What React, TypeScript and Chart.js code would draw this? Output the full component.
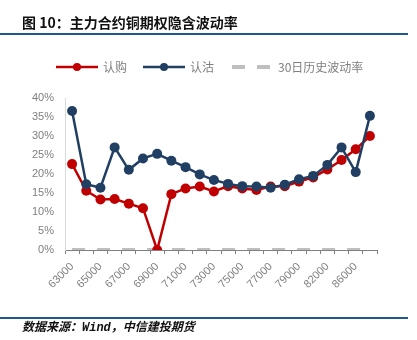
import React, { useEffect, useRef } from 'react';
import { Chart, registerables } from 'chart.js';

Chart.register(...registerables);

const categories = [
  '63000', '64000', '65000', '66000', '67000', '68000', '69000', '70000',
  '71000', '72000', '73000', '74000', '75000', '76000', '77000', '78000',
  '79000', '80000', '82000', '84000', '86000', '88000',
];

// 认购 (call) implied vol, %
const callValues = [
  22.6, 15.6, 13.3, 13.4, 12.2, 11.0, 0.0, 14.7, 16.2, 16.7, 15.4,
  16.8, 16.2, 15.8, 16.7, 16.8, 18.0, 19.1, 21.2, 23.7, 26.5, 30.0,
];

// 认沽 (put) implied vol, %
const putValues = [
  36.6, 17.3, 16.4, 27.0, 21.1, 24.1, 25.3, 23.5, 21.8, 19.9, 18.4,
  17.4, 16.8, 16.7, 16.4, 17.2, 18.6, 19.5, 22.4, 27.0, 20.5, 35.3,
];

// 30日历史波动率 (shown flat at 0)
const histValues = [
  0, 0, 0, 0, 0, 0, 0, 0, 0, 0, 0,
  0, 0, 0, 0, 0, 0, 0, 0, 0, 0, 0,
];

const yTicks = [0, 5, 10, 15, 20, 25, 30, 35, 40];

const seriesNames = ['认购', '认沽', '30日历史波动率'];

const RED = '#c00000';
const BLUE = '#213f63';
const GREY = '#bfbfbf';
const TEXT_GREY = '#7f7f7f';

const legendPlugin = {
  id: 'customLegend',
  afterDraw(chart: any) {
    const ctx = chart.ctx;
    const y = 67;
    ctx.save();
    ctx.lineWidth = 2.5;
    ctx.strokeStyle = RED;
    ctx.beginPath();
    ctx.moveTo(56, y);
    ctx.lineTo(98, y);
    ctx.stroke();
    ctx.fillStyle = RED;
    ctx.beginPath();
    ctx.arc(77, y, 4, 0, Math.PI * 2);
    ctx.fill();
    ctx.strokeStyle = BLUE;
    ctx.beginPath();
    ctx.moveTo(143, y);
    ctx.lineTo(185, y);
    ctx.stroke();
    ctx.fillStyle = BLUE;
    ctx.beginPath();
    ctx.arc(164, y, 4, 0, Math.PI * 2);
    ctx.fill();
    ctx.strokeStyle = GREY;
    ctx.lineWidth = 4;
    ctx.beginPath();
    ctx.moveTo(232, y);
    ctx.lineTo(245, y);
    ctx.moveTo(257, y);
    ctx.lineTo(270, y);
    ctx.stroke();
    ctx.fillStyle = TEXT_GREY;
    ctx.font = '12px "Noto Sans CJK SC", "Liberation Sans", sans-serif';
    ctx.textBaseline = 'middle';
    ctx.textAlign = 'left';
    ctx.fillText(seriesNames[0], 103, y);
    ctx.fillText(seriesNames[1], 190, y);
    ctx.fillText(seriesNames[2], 278, y);
    ctx.restore();
  },
};

export default function App() {
  const canvasRef = useRef<HTMLCanvasElement | null>(null);

  useEffect(() => {
    const canvas = canvasRef.current;
    if (!canvas) return;
    const chart = new Chart(canvas, {
      type: 'line',
      data: {
        labels: categories,
        datasets: [
          {
            label: seriesNames[1],
            data: putValues,
            borderColor: BLUE,
            backgroundColor: BLUE,
            borderWidth: 2.5,
            pointRadius: 5,
            pointBorderWidth: 0,
            pointBackgroundColor: BLUE,
            order: 0,
          },
          {
            label: seriesNames[0],
            data: callValues,
            borderColor: RED,
            backgroundColor: RED,
            borderWidth: 2.5,
            pointRadius: 5,
            pointBorderWidth: 0,
            pointBackgroundColor: RED,
            order: 1,
          },
          {
            label: seriesNames[2],
            data: histValues,
            borderColor: GREY,
            backgroundColor: GREY,
            borderWidth: 4,
            borderDash: [13, 12],
            pointRadius: 0,
            order: 2,
          },
        ],
      },
      options: {
        responsive: false,
        animation: false,
        devicePixelRatio: 1,
        layout: { padding: { top: 98, right: 40, left: 0, bottom: 0 } },
        plugins: {
          legend: { display: false },
          tooltip: { enabled: false },
          title: { display: false },
        },
        scales: {
          x: {
            offset: true,
            grid: {
              offset: true,
              drawOnChartArea: false,
              drawTicks: true,
              tickLength: 4,
              color: '#808080',
            },
            border: { display: true, color: '#808080', width: 1 },
            ticks: {
              autoSkip: false,
              minRotation: 45,
              maxRotation: 45,
              color: TEXT_GREY,
              font: { family: '"Liberation Sans", Arial, sans-serif', size: 11 },
              padding: 6,
              callback: (_v: any, i: number) => (i % 2 === 0 ? categories[i] : ''),
            },
            afterFit: (scale: any) => {
              scale.height = 90;
            },
          },
          y: {
            min: 0,
            max: 40,
            afterBuildTicks: (scale: any) => {
              scale.ticks = yTicks.map((v) => ({ value: v }));
            },
            grid: { display: false, drawTicks: false },
            border: { display: true, color: '#d9d9d9', width: 1 },
            ticks: {
              color: TEXT_GREY,
              font: { family: '"Liberation Sans", Arial, sans-serif', size: 11 },
              padding: 11,
              callback: (v: any) => `${v}%`,
            },
            afterFit: (scale: any) => {
              scale.width = 65;
            },
          },
        },
      },
      plugins: [legendPlugin],
    });
    return () => chart.destroy();
  }, []);

  return (
    <div style={{ position: 'fixed', left: 0, top: 0, width: 417, height: 340, background: '#fff', overflow: 'hidden' }}>
      <canvas ref={canvasRef} width={417} height={340} style={{ position: 'absolute', left: 0, top: 0, width: 417, height: 340 }} />
      <div
        style={{
          position: 'absolute', left: 22, top: 12, height: 20, lineHeight: '20px',
          fontFamily: '"Noto Sans CJK SC", sans-serif', fontSize: 14, fontWeight: 'bold', color: '#111', whiteSpace: 'nowrap',
        }}
      >
        图 10：主力合约铜期权隐含波动率
      </div>
      <div style={{ position: 'absolute', left: 0, top: 33, width: 408, height: 2, background: '#1d5a8a' }} />
      <div style={{ position: 'absolute', left: 0, top: 317, width: 408, height: 2, background: '#1d5a8a' }} />
      <div
        style={{
          position: 'absolute', left: 22, top: 319, height: 18, lineHeight: '18px',
          fontFamily: '"Liberation Mono", "Noto Sans CJK SC", monospace', fontSize: 12, fontStyle: 'italic', fontWeight: 'bold', color: '#111', whiteSpace: 'nowrap',
        }}
      >
        数据来源：Wind，中信建投期货
      </div>
    </div>
  );
}
